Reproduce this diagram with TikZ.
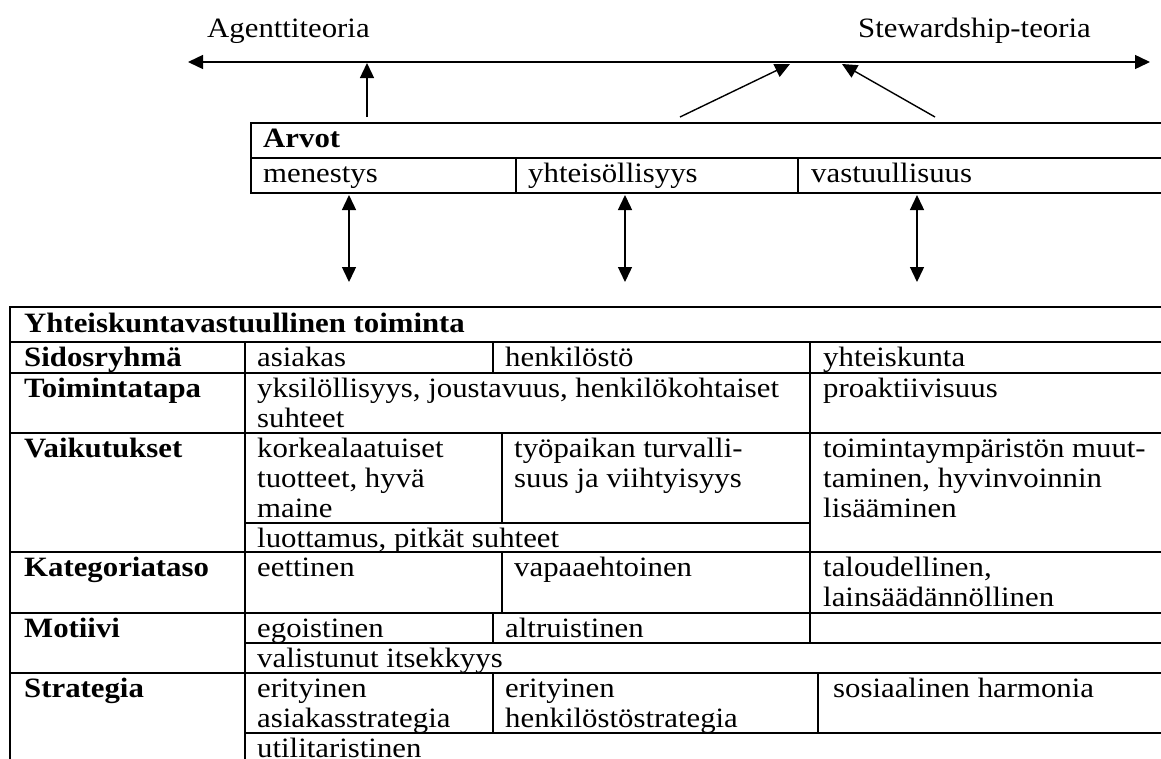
\documentclass[tikz,border=0pt]{standalone}
\usepackage{fontspec}
\setmainfont{Liberation Serif}[FakeStretch=1.1]
\usetikzlibrary{arrows.meta}

\newcommand{\cellfont}{\fontsize{28}{30}\selectfont}
\newcommand{\cellstrut}{\rule{0pt}{24pt}}

\tikzset{
  txt/.style={anchor=north west, inner sep=0pt, align=left, font=\cellfont},
  bold/.style={txt, font=\cellfont\bfseries},
  toplbl/.style={anchor=base west, inner sep=0pt, font=\cellfont},
  rule/.style={line width=1.6pt},
  arrowup/.style={line width=1.4pt, -{Triangle[length=15pt,width=14pt]}},
  arrowboth/.style={line width=1.4pt, {Triangle[length=15pt,width=14pt]}-{Triangle[length=15pt,width=14pt]}},
}

\begin{document}
\begin{tikzpicture}[x=1pt,y=-1pt]
\clip (0,0) rectangle (1161,758);

% theory axis
\node[toplbl] (agent) at (207,37) {Agenttiteoria};
\node[toplbl] (steward) at (858,37) {Stewardship-teoria};
\coordinate (axL) at (188,62);
\coordinate (axR) at (1150,62);
\draw[arrowboth] (axL) -- (axR);

% arrows from the values box to the axis
\coordinate (upA) at (367,117);  \coordinate (upAt) at (367,63);
\coordinate (upB) at (680,117);  \coordinate (upBt) at (790,64);
\coordinate (upC) at (935,117);  \coordinate (upCt) at (842,64);
\draw[arrowup] (upA) -- (upAt);
\draw[arrowup] (upB) -- (upBt);
\draw[arrowup] (upC) -- (upCt);

% values box
\draw[rule] (1175,123) -- (251,123) -- (251,193) -- (1175,193);
\draw[rule] (251,158) -- (1175,158);
\draw[rule] (516,158) -- (516,193);
\draw[rule] (798,158) -- (798,193);
\node[bold] (arvot) at (263,123) {\cellstrut Arvot};
\node[txt] (menestys) at (263,158) {\cellstrut menestys};
\node[txt] (yhteis) at (528,158) {\cellstrut yhteisöllisyys};
\node[txt] (vastuu) at (811,158) {\cellstrut vastuullisuus};

% links between the values and the table
\coordinate (d1t) at (349,195); \coordinate (d1b) at (349,282);
\coordinate (d2t) at (625,195); \coordinate (d2b) at (625,282);
\coordinate (d3t) at (917,195); \coordinate (d3b) at (917,282);
\draw[arrowboth] (d1t) -- (d1b);
\draw[arrowboth] (d2t) -- (d2b);
\draw[arrowboth] (d3t) -- (d3b);

% table grid
\draw[rule] (1175,307) -- (10,307) -- (10,770);
\draw[rule] (10,342) -- (1175,342);
\draw[rule] (10,373) -- (1175,373);
\draw[rule] (10,433) -- (1175,433);
\draw[rule] (245,523) -- (810,523);
\draw[rule] (10,552) -- (1175,552);
\draw[rule] (10,613) -- (1175,613);
\draw[rule] (245,643) -- (1175,643);
\draw[rule] (10,673) -- (1175,673);
\draw[rule] (245,733) -- (1175,733);
\draw[rule] (245,342) -- (245,770);
\draw[rule] (493,342) -- (493,373);
\draw[rule] (502,433) -- (502,523);
\draw[rule] (502,552) -- (502,613);
\draw[rule] (493,613) -- (493,643);
\draw[rule] (493,673) -- (493,733);
\draw[rule] (810,342) -- (810,643);
\draw[rule] (818,673) -- (818,733);

% table text
\node[bold] (title) at (24,308) {\cellstrut Yhteiskuntavastuullinen toiminta};
\node[bold] (h1) at (24,342) {\cellstrut Sidosryhmä};
\node[bold] (h2) at (24,373) {\cellstrut Toimintatapa};
\node[bold] (h3) at (24,433) {\cellstrut Vaikutukset};
\node[bold] (h4) at (24,552) {\cellstrut Kategoriataso};
\node[bold] (h5) at (24,613) {\cellstrut Motiivi};
\node[bold] (h6) at (24,673) {\cellstrut Strategia};

\node[txt] (c11) at (257,342) {\cellstrut asiakas};
\node[txt] (c12) at (505,342) {\cellstrut henkilöstö};
\node[txt] (c13) at (823,342) {\cellstrut yhteiskunta};

\node[txt] (c21) at (257,373) {\cellstrut yksilöllisyys, joustavuus, henkilökohtaiset\\suhteet};
\node[txt] (c23) at (823,373) {\cellstrut proaktiivisuus};

\node[txt] (c31) at (257,433) {\cellstrut korkealaatuiset\\tuotteet, hyvä\\maine};
\node[txt] (c32) at (514,433) {\cellstrut työpaikan turvalli-\\suus ja viihtyisyys};
\node[txt] (c33) at (823,433) {\cellstrut toimintaympäristön muut-\\taminen, hyvinvoinnin\\lisääminen};
\node[txt] (c34) at (257,523) {\cellstrut luottamus, pitkät suhteet};

\node[txt] (c41) at (257,552) {\cellstrut eettinen};
\node[txt] (c42) at (514,552) {\cellstrut vapaaehtoinen};
\node[txt] (c43) at (823,552) {\cellstrut taloudellinen,\\lainsäädännöllinen};

\node[txt] (c51) at (257,613) {\cellstrut egoistinen};
\node[txt] (c52) at (505,613) {\cellstrut altruistinen};
\node[txt] (c54) at (257,643) {\cellstrut valistunut itsekkyys};

\node[txt] (c61) at (257,673) {\cellstrut erityinen\\asiakasstrategia};
\node[txt] (c62) at (505,673) {\cellstrut erityinen\\henkilöstöstrategia};
\node[txt] (c63) at (833,673) {\cellstrut sosiaalinen harmonia};
\node[txt] (c64) at (257,733) {\cellstrut utilitaristinen};
\end{tikzpicture}
\end{document}
